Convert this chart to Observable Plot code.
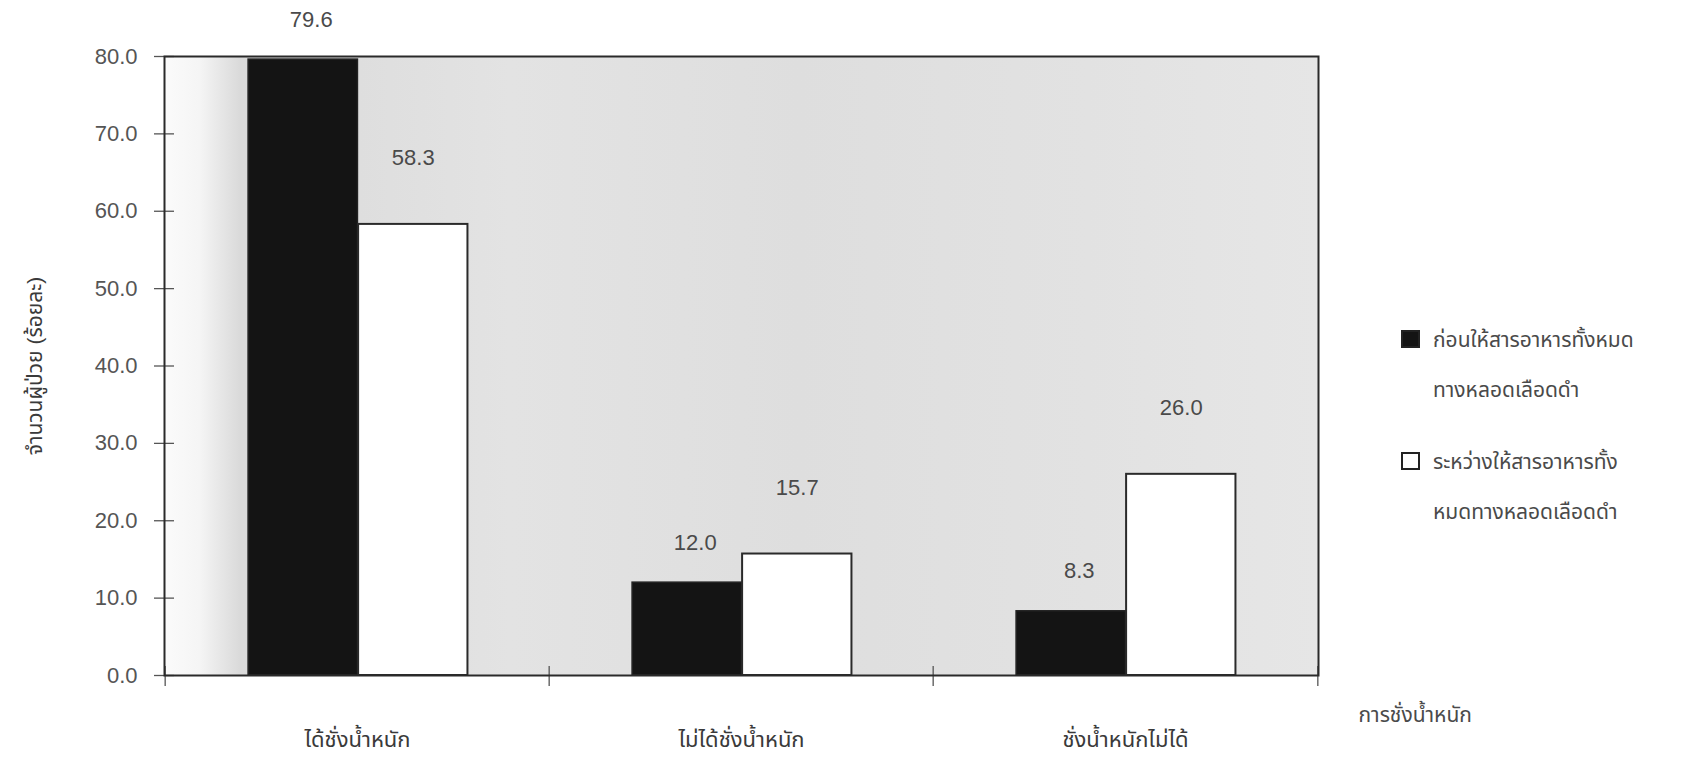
<!DOCTYPE html>
<html>
<head>
<meta charset="utf-8">
<script src="https://cdn.jsdelivr.net/npm/d3@7"></script>
<script src="https://cdn.jsdelivr.net/npm/@observablehq/plot@0.6"></script>
<style>
  body { margin: 0; background: #fff; }
  #chart {
    position: relative; width: 1701px; height: 765px; background: #fff;
    font-family: "Liberation Sans", Arial, "Noto Sans Thai", "Noto Sans", sans-serif; color: #4a4a4a;
  }
  #chart svg { position: absolute; left: 0; top: 0; }
  #legend { position: absolute; left: 1399px; top: 315px; font-size: 21px; line-height: 50px; color: #4a4a4a; }
  .item { position: relative; padding-left: 34px; margin-bottom: 22px; }
  .swatch { position: absolute; left: 2px; top: 15px; width: 19px; height: 18px; box-sizing: border-box; border: 2px solid #222; }
</style>
</head>
<body>
<svg width="0" height="0" style="position:absolute">
  <defs>
    <linearGradient id="panel" x1="0" x2="1" y1="0" y2="0">
      <stop offset="0" stop-color="#fbfbfb"/>
      <stop offset="0.03" stop-color="#f5f5f5"/>
      <stop offset="0.065" stop-color="#dadada"/>
      <stop offset="0.3" stop-color="#e3e3e3"/>
      <stop offset="0.55" stop-color="#dedede"/>
      <stop offset="0.8" stop-color="#e2e2e2"/>
      <stop offset="1" stop-color="#e6e6e6"/>
    </linearGradient>
  </defs>
</svg>
<div id="chart"><div id="legend"></div></div>
<script>
// Weighing status of patients, before vs. during total parenteral nutrition (%)
const categories = ["ได้ชั่งน้ำหนัก", "ไม่ได้ชั่งน้ำหนัก", "ชั่งน้ำหนักไม่ได้"];
const beforeValues = [79.6, 12.0, 8.3];
const duringValues = [58.3, 15.7, 26.0];
const seriesLabels = [
  ["ก่อนให้สารอาหารทั้งหมด", "ทางหลอดเลือดดำ"],
  ["ระหว่างให้สารอาหารทั้ง", "หมดทางหลอดเลือดดำ"]
];
const seriesFills = ["#141414", "#ffffff"];
const yTicks = [0, 10, 20, 30, 40, 50, 60, 70, 80];
const yTitle = "จำนวนผู้ป่วย (ร้อยละ)";
const xTitle = "การชั่งน้ำหนัก";

const before = categories.map((c, i) => ({category: c, value: beforeValues[i]}));
const during = categories.map((c, i) => ({category: c, value: duringValues[i]}));

const W = 1701, H = 765;
const margin = {top: 56, right: 383, bottom: 90, left: 164};
const step = (W - margin.left - margin.right) / categories.length;
const lead = step * 0.216, barW = step * 0.286;
const fmt = d3.format(".1f");
const font = 22;

const chart = Plot.plot({
  width: W, height: H,
  marginTop: margin.top, marginRight: margin.right, marginBottom: margin.bottom, marginLeft: margin.left,
  style: {background: "transparent", color: "#4a4a4a", fontFamily: "Liberation Sans, Arial, Noto Sans Thai, sans-serif"},
  x: {type: "band", domain: categories, padding: 0, axis: null},
  y: {domain: [0, 80], axis: null},
  marks: [
    Plot.frame({fill: "url(#panel)", stroke: "none"}),
    // group boundary ticks crossing the baseline
    Plot.axisX(categories, {label: null, tickSize: 20, dy: -9, dx: -step / 2, tickFormat: () => "", stroke: "#555", strokeWidth: 1.3}),
    Plot.axisX([categories[categories.length - 1]], {label: null, tickSize: 20, dy: -9, dx: step / 2, tickFormat: () => "", stroke: "#555", strokeWidth: 1.3}),
    Plot.axisX(categories, {label: null, tickSize: 0, tickPadding: 56, fontSize: font, fill: "#3a3a3a"}),
    // y ticks straddling the left edge, and their labels
    Plot.axisY(yTicks, {label: null, tickSize: 20, dx: 10, tickFormat: () => "", stroke: "#555", strokeWidth: 1.3}),
    Plot.axisY(yTicks, {label: null, tickSize: 0, tickPadding: 27, tickFormat: fmt, fontSize: font, fill: "#555"}),
    Plot.barY(before, {x: "category", y: "value", fill: seriesFills[0], stroke: "#222", strokeWidth: 1.5,
      insetLeft: lead, insetRight: step - lead - barW}),
    Plot.barY(during, {x: "category", y: "value", fill: seriesFills[1], stroke: "#2a2a2a", strokeWidth: 2,
      insetLeft: lead + barW, insetRight: step - lead - 2 * barW}),
    Plot.text(before, {x: "category", y: "value", text: d => fmt(d.value), dx: lead + barW / 2 - step / 2 + 8, dy: -40,
      fontSize: font, fill: "#4a4a4a"}),
    Plot.text(during, {x: "category", y: "value", text: d => fmt(d.value), dx: lead + 1.5 * barW - step / 2, dy: -66,
      fontSize: font, fill: "#4a4a4a"}),
    Plot.frame({stroke: "#2a2a2a", strokeWidth: 2}),
    Plot.text([yTitle], {frameAnchor: "left", dx: -129, rotate: -90, textAnchor: "middle", fontSize: 21, fill: "#3a3a3a"}),
    Plot.text([xTitle], {frameAnchor: "bottom-right", dx: 40, dy: 46, textAnchor: "start", fontSize: 21, fill: "#4a4a4a"})
  ]
});
document.getElementById("chart").prepend(chart);

// legend to the right of the panel
const legend = d3.select("#legend");
seriesLabels.forEach((lines, i) => {
  const item = legend.append("div").attr("class", "item");
  item.append("div").attr("class", "swatch").style("background", seriesFills[i]);
  lines.forEach(t => item.append("div").text(t));
});
</script>
</body>
</html>
